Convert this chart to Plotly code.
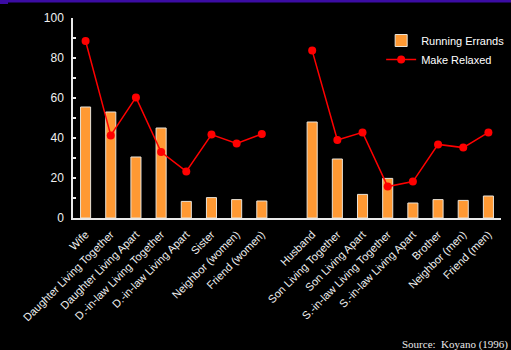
import plotly.graph_objects as go

categories = ["Wife", "Daughter Living Together", "Daughter Living Apart",
              "D.-in-law Living Together", "D.-in-law Living Apart", "Sister",
              "Neighbor (women)", "Friend (women)", "",
              "Husband", "Son Living Together", "Son Living Apart",
              "S.-in-law Living Together", "S.-in-law Living Apart", "Brother",
              "Neighbor (men)", "Friend (men)"]
running_errands = [55.5, 53, 30.5, 45, 8.3, 10.2, 9.2, 8.5, None,
                   48, 29.5, 11.8, 19.8, 7.5, 9.2, 8.8, 11]
make_relaxed = [88.5, 41.3, 60.3, 33, 23.3, 41.7, 37.3, 42, None,
                83.7, 39, 42.8, 15.7, 18.2, 36.8, 35.2, 42.8]
y_ticks = [0, 20, 40, 60, 80, 100]

xs = list(range(len(categories)))
tickvals = [i for i, c in enumerate(categories) if c]
ticktext = [c for c in categories if c]

font_family = "Arial, Liberation Sans, sans-serif"

fig = go.Figure()
fig.add_trace(go.Bar(
    x=xs, y=running_errands, name="Running Errands", width=0.4,
    marker=dict(color="#ff9933", line=dict(color="#e8e2d8", width=1)),
))
fig.add_trace(go.Scatter(
    x=xs, y=make_relaxed, name="Make Relaxed", mode="lines+markers",
    connectgaps=False,
    line=dict(color="#ff0000", width=1.5),
    marker=dict(color="#ff0000", size=8),
))

fig.update_layout(
    width=511, height=350,
    margin=dict(l=73, r=10, t=18, b=132, autoexpand=False),
    paper_bgcolor="black", plot_bgcolor="black",
    font=dict(family=font_family, color="white", size=11),
    showlegend=True,
    legend=dict(x=0.72, y=0.96, xanchor="left", yanchor="top",
                bgcolor="rgba(0,0,0,0)", font=dict(size=11, color="white"),
                tracegroupgap=0, itemwidth=30),
    xaxis=dict(range=[-0.5, 16.5], tickmode="array", tickvals=tickvals,
               ticktext=ticktext, tickangle=-45, showgrid=False,
               zeroline=False, showline=True, linecolor="#e8e8e8", linewidth=1.5,
               ticks="", ticklabelstandoff=4,
               tickfont=dict(size=11, color="#f0f0f0")),
    yaxis=dict(range=[0, 100], tickmode="array", tickvals=y_ticks,
               showgrid=False, zeroline=False, showline=True,
               linecolor="#e8e8e8", linewidth=1.5, ticklabelstandoff=5,
               tickfont=dict(size=12, color="#f0f0f0")),
    shapes=[
        dict(type="rect", xref="paper", yref="paper",
             x0=-73/428, x1=438/428, y0=1 + 15.5/200, y1=1 + 18/200,
             fillcolor="#3b0ca3", line=dict(width=0), layer="above"),
        dict(type="rect", xref="paper", yref="paper",
             x0=-73/428, x1=-65/428, y0=1 + 14/200, y1=1 + 18/200,
             fillcolor="#3b0ca3", line=dict(width=0), layer="above"),
    ],
    annotations=[
        dict(text="Source:  Koyano (1996)", xref="paper", yref="paper",
             x=(510 - 73) / 428, y=(218 - 344) / 200, xanchor="right",
             yanchor="middle", showarrow=False,
             font=dict(family="Times New Roman, Liberation Serif, serif",
                       size=11, color="#e8e8e8")),
    ],
)

# minor ticks every 10 on the y axis, drawn inside
fig.update_yaxes(minor=dict(dtick=10, ticks="inside", ticklen=3,
                            tickcolor="#e8e8e8", tickwidth=1.5),
                 ticks="inside", ticklen=3, tickcolor="#e8e8e8", tickwidth=1.5)

fig.write_html("out.html", config={"displayModeBar": False},
               post_script="document.body.style.margin='0';"
                           "document.body.style.background='black';")
